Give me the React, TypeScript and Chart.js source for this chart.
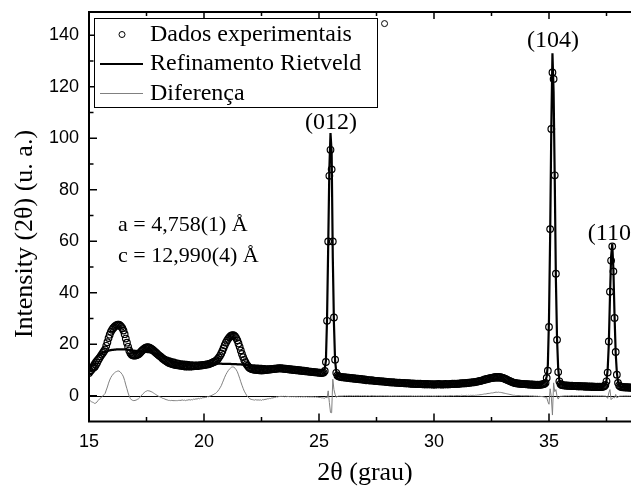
import React, { useEffect, useRef } from 'react';
import { Chart, registerables } from 'chart.js';

Chart.register(...registerables);

// 2θ measurement grid (degrees)
const THETA_START = 15;
const THETA_STEP = 0.05;

// Experimental intensities, one row per degree (15.00 ... 38.70)
const OBS = [
  8.8, 9.5, 10.0, 10.6, 11.0, 11.3, 12.0, 12.8, 13.8, 14.6, 15.3, 16.0, 16.6, 17.3, 18.0, 19.4, 20.8, 22.4, 23.7, 24.8,
  25.6, 26.2, 26.7, 27.1, 27.4, 27.6, 27.6, 27.3, 26.8, 26.2, 25.3, 23.9, 22.2, 20.6, 19.0, 17.6, 16.6, 16.0, 15.7, 15.6,
  15.6, 15.7, 15.9, 16.1, 16.5, 17.0, 17.5, 17.9, 18.3, 18.6, 18.8, 18.9, 18.8, 18.6, 18.3, 18.0, 17.6, 17.2, 16.8, 16.4,
  16.0, 15.6, 15.3, 14.9, 14.5, 14.2, 13.8, 13.5, 13.2, 12.9, 12.7, 12.5, 12.4, 12.2, 12.1, 12.0, 11.9, 11.8, 11.8, 11.7,
  11.6, 11.8, 11.5, 11.6, 11.3, 11.5, 11.4, 11.6, 11.3, 11.5, 11.4, 11.6, 11.5, 11.7, 11.5, 11.8, 11.6, 11.9, 11.7, 12.0,
  11.9, 12.1, 12.0, 12.3, 12.2, 12.5, 12.6, 12.8, 13.0, 13.2, 13.4, 13.8, 14.3, 14.9, 15.6, 16.4, 17.4, 18.5, 19.6, 20.6,
  21.4, 22.1, 22.7, 23.1, 23.4, 23.5, 23.4, 23.0, 22.4, 21.5, 20.3, 19.0, 17.6, 16.2, 15.0, 13.9, 13.0, 12.2, 11.6, 11.1,
  10.7, 10.5, 10.3, 10.2, 10.1, 10.2, 10.0, 10.1, 9.9, 10.0, 9.8, 10.0, 9.9, 10.1, 10.0, 10.2, 10.1, 10.3, 10.2, 10.4,
  10.3, 10.5, 10.4, 10.6, 10.5, 10.7, 10.6, 10.7, 10.5, 10.6, 10.4, 10.5, 10.3, 10.4, 10.2, 10.3, 10.1, 10.2, 10.0, 10.1,
  9.9, 10.0, 9.8, 9.9, 9.7, 9.8, 9.6, 9.7, 9.5, 9.6, 9.4, 9.5, 9.3, 9.4, 9.2, 9.3, 9.1, 9.2, 9.0, 9.1,
  8.9, 9.0, 8.8, 8.9, 9.0, 9.6, 13.1, 29.1, 59.9, 85.4, 95.5, 87.9, 59.9, 30.4, 14.0, 8.9, 7.9, 7.6, 7.4, 7.3,
  7.2, 7.1, 7.2, 7.0, 7.1, 6.9, 7.0, 6.8, 6.9, 6.7, 6.8, 6.6, 6.7, 6.5, 6.6, 6.4, 6.5, 6.3, 6.4, 6.2,
  6.3, 6.0, 6.2, 6.1, 5.9, 6.0, 6.1, 5.8, 5.9, 5.8, 5.7, 5.8, 5.6, 5.7, 5.5, 5.6, 5.6, 5.4, 5.5, 5.3,
  5.4, 5.2, 5.3, 5.1, 5.3, 5.1, 5.2, 5.0, 5.1, 5.0, 5.1, 4.9, 5.0, 4.9, 5.0, 4.8, 4.9, 4.8, 4.9, 4.7,
  4.8, 4.6, 4.8, 4.6, 4.7, 4.5, 4.7, 4.5, 4.7, 4.5, 4.6, 4.4, 4.6, 4.4, 4.6, 4.4, 4.5, 4.4, 4.5, 4.3,
  4.5, 4.3, 4.5, 4.4, 4.6, 4.4, 4.5, 4.3, 4.5, 4.4, 4.6, 4.4, 4.5, 4.4, 4.6, 4.5, 4.7, 4.5, 4.7, 4.6,
  4.7, 4.6, 4.8, 4.7, 4.9, 4.8, 4.9, 4.8, 5.0, 4.9, 5.1, 5.0, 5.2, 5.1, 5.3, 5.2, 5.4, 5.4, 5.6, 5.6,
  5.8, 5.8, 6.0, 6.1, 6.3, 6.3, 6.5, 6.6, 6.7, 6.8, 6.9, 7.0, 7.1, 7.2, 7.3, 7.2, 7.3, 7.2, 7.2, 7.0,
  6.9, 6.7, 6.5, 6.3, 6.1, 5.9, 5.7, 5.5, 5.3, 5.1, 5.0, 4.9, 4.8, 4.8, 4.7, 4.7, 4.6, 4.6, 4.5, 4.5,
  4.5, 4.4, 4.5, 4.3, 4.4, 4.3, 4.4, 4.2, 4.3, 4.2, 4.3, 4.2, 4.3, 4.3, 4.4, 4.5, 4.7, 5.0, 6.9, 9.7,
  26.7, 64.7, 103.6, 125.5, 123.0, 85.6, 47.4, 21.7, 9.2, 5.6, 4.6, 4.2, 4.1, 4.0, 4.0, 3.9, 4.0, 3.8, 3.9, 3.8,
  3.9, 3.7, 3.8, 3.7, 3.8, 3.6, 3.8, 3.6, 3.7, 3.6, 3.7, 3.5, 3.7, 3.5, 3.6, 3.5, 3.6, 3.4, 3.6, 3.4,
  3.5, 3.4, 3.5, 3.4, 3.5, 3.4, 3.5, 3.5, 3.7, 4.2, 5.6, 9.0, 21.1, 40.4, 52.5, 58.0, 48.3, 30.2, 17.0, 8.2,
  5.0, 4.0, 3.6, 3.4, 3.3, 3.4, 3.2, 3.3, 3.2, 3.3, 3.1, 3.2, 3.1, 3.2, 3.1,
];

// Rietveld calculated profile on the same grid
const CALC = [
  10.4, 11.4, 12.3, 13.1, 13.7, 14.3, 14.8, 15.2, 15.6, 15.9, 16.2, 16.5, 16.7, 16.9, 17.1, 17.2, 17.4, 17.5, 17.6, 17.7,
  17.8, 17.8, 17.9, 17.9, 18.0, 18.0, 18.0, 18.0, 18.0, 18.0, 18.0, 18.0, 18.0, 17.9, 17.9, 17.8, 17.7, 17.6, 17.5, 17.5,
  17.4, 17.4, 17.3, 17.3, 17.3, 17.2, 17.2, 17.1, 17.1, 17.0, 17.0, 16.9, 16.9, 16.8, 16.7, 16.6, 16.5, 16.4, 16.3, 16.2,
  16.1, 15.9, 15.8, 15.6, 15.5, 15.3, 15.1, 15.0, 14.8, 14.7, 14.5, 14.4, 14.2, 14.1, 14.0, 13.9, 13.8, 13.7, 13.6, 13.5,
  13.4, 13.4, 13.3, 13.3, 13.2, 13.2, 13.1, 13.1, 13.0, 13.0, 13.0, 12.9, 12.9, 12.9, 12.8, 12.8, 12.8, 12.8, 12.7, 12.7,
  12.7, 12.7, 12.7, 12.6, 12.6, 12.6, 12.6, 12.6, 12.6, 12.5, 12.5, 12.5, 12.5, 12.5, 12.5, 12.5, 12.4, 12.4, 12.4, 12.4,
  12.4, 12.4, 12.4, 12.4, 12.3, 12.3, 12.3, 12.3, 12.3, 12.2, 12.2, 12.2, 12.2, 12.1, 12.1, 12.1, 12.0, 12.0, 12.0, 11.9,
  11.9, 11.9, 11.8, 11.8, 11.8, 11.7, 11.7, 11.7, 11.6, 11.6, 11.6, 11.5, 11.5, 11.5, 11.4, 11.4, 11.3, 11.3, 11.3, 11.2,
  11.2, 11.1, 11.1, 11.0, 11.0, 11.0, 10.9, 10.9, 10.8, 10.8, 10.8, 10.7, 10.7, 10.6, 10.6, 10.6, 10.5, 10.5, 10.4, 10.4,
  10.4, 10.3, 10.3, 10.2, 10.2, 10.1, 10.1, 10.0, 10.0, 9.9, 9.9, 9.9, 9.8, 9.8, 9.7, 9.7, 9.7, 9.6, 9.6, 9.6,
  9.6, 9.6, 9.6, 9.7, 9.9, 10.6, 13.5, 30.0, 58.0, 88.0, 102.0, 94.5, 53.5, 28.0, 13.5, 9.5, 8.2, 7.7, 7.5, 7.4,
  7.3, 7.2, 7.1, 7.1, 7.0, 7.0, 6.9, 6.9, 6.8, 6.8, 6.7, 6.7, 6.6, 6.6, 6.5, 6.5, 6.4, 6.4, 6.3, 6.3,
  6.2, 6.2, 6.1, 6.1, 6.0, 6.0, 6.0, 5.9, 5.9, 5.8, 5.8, 5.8, 5.7, 5.7, 5.6, 5.6, 5.6, 5.5, 5.5, 5.4,
  5.4, 5.4, 5.3, 5.3, 5.3, 5.2, 5.2, 5.2, 5.1, 5.1, 5.1, 5.0, 5.0, 5.0, 5.0, 4.9, 4.9, 4.9, 4.9, 4.8,
  4.8, 4.8, 4.8, 4.8, 4.7, 4.7, 4.7, 4.7, 4.7, 4.6, 4.6, 4.6, 4.6, 4.6, 4.6, 4.5, 4.5, 4.5, 4.5, 4.5,
  4.5, 4.5, 4.5, 4.5, 4.5, 4.5, 4.5, 4.5, 4.5, 4.5, 4.5, 4.5, 4.5, 4.5, 4.5, 4.5, 4.6, 4.6, 4.6, 4.6,
  4.6, 4.6, 4.7, 4.7, 4.7, 4.7, 4.8, 4.8, 4.8, 4.9, 4.9, 4.9, 5.0, 5.0, 5.1, 5.1, 5.2, 5.2, 5.3, 5.3,
  5.4, 5.4, 5.5, 5.5, 5.6, 5.6, 5.7, 5.7, 5.8, 5.8, 5.8, 5.9, 5.9, 5.9, 5.9, 5.9, 5.9, 5.9, 5.9, 5.8,
  5.8, 5.7, 5.6, 5.5, 5.4, 5.3, 5.2, 5.1, 5.0, 4.9, 4.8, 4.8, 4.7, 4.7, 4.6, 4.6, 4.6, 4.5, 4.5, 4.5,
  4.5, 4.4, 4.4, 4.4, 4.4, 4.4, 4.4, 4.4, 4.4, 4.4, 4.4, 4.5, 4.5, 4.6, 4.7, 4.9, 5.2, 5.8, 7.5, 12.0,
  30.0, 62.0, 104.0, 133.0, 118.0, 84.0, 45.0, 22.0, 10.5, 6.0, 4.8, 4.4, 4.2, 4.1, 4.0, 4.0, 3.9, 3.9, 3.9, 3.8,
  3.8, 3.8, 3.7, 3.7, 3.7, 3.7, 3.7, 3.6, 3.6, 3.6, 3.6, 3.6, 3.6, 3.5, 3.5, 3.5, 3.5, 3.5, 3.5, 3.5,
  3.5, 3.5, 3.5, 3.5, 3.5, 3.5, 3.5, 3.6, 3.8, 4.3, 6.0, 10.0, 20.0, 38.0, 54.0, 59.0, 49.0, 31.0, 16.5, 9.0,
  5.5, 4.2, 3.7, 3.5, 3.4, 3.4, 3.3, 3.3, 3.3, 3.3, 3.2, 3.2, 3.2, 3.2, 3.2,
];

// Difference curve (observed - calculated)
const DIFF = [
  -1.6, -1.9, -2.3, -2.5, -2.7, -3.0, -2.8, -2.4, -1.8, -1.3, -0.9, -0.5, -0.1, 0.4, 0.9, 2.2, 3.4, 4.9, 6.1, 7.1,
  7.8, 8.4, 8.8, 9.2, 9.4, 9.6, 9.6, 9.3, 8.8, 8.2, 7.3, 5.9, 4.2, 2.7, 1.1, -0.2, -1.1, -1.6, -1.8, -1.9,
  -1.8, -1.7, -1.4, -1.2, -0.8, -0.2, 0.3, 0.8, 1.2, 1.6, 1.8, 2.0, 1.9, 1.8, 1.6, 1.4, 1.1, 0.8, 0.5, 0.2,
  -0.1, -0.3, -0.5, -0.7, -1.0, -1.1, -1.3, -1.5, -1.6, -1.8, -1.8, -1.9, -1.8, -1.9, -1.9, -1.9, -1.9, -1.9, -1.8, -1.8,
  -1.8, -1.6, -1.8, -1.7, -1.9, -1.7, -1.7, -1.5, -1.7, -1.5, -1.6, -1.3, -1.4, -1.2, -1.3, -1.0, -1.2, -0.9, -1.0, -0.7,
  -0.8, -0.6, -0.7, -0.3, -0.4, -0.1, 0.0, 0.2, 0.4, 0.7, 0.9, 1.3, 1.8, 2.4, 3.1, 3.9, 5.0, 6.1, 7.2, 8.2,
  9.0, 9.7, 10.3, 10.7, 11.1, 11.2, 11.1, 10.7, 10.1, 9.3, 8.1, 6.8, 5.4, 4.1, 2.9, 1.8, 1.0, 0.2, -0.4, -0.8,
  -1.2, -1.4, -1.5, -1.6, -1.7, -1.5, -1.7, -1.6, -1.7, -1.6, -1.8, -1.5, -1.6, -1.4, -1.4, -1.2, -1.2, -1.0, -1.1, -0.8,
  -0.9, -0.6, -0.7, -0.4, -0.5, -0.3, -0.3, -0.2, -0.3, -0.2, -0.4, -0.2, -0.4, -0.2, -0.4, -0.3, -0.4, -0.3, -0.4, -0.3,
  -0.5, -0.3, -0.5, -0.3, -0.5, -0.3, -0.5, -0.3, -0.5, -0.3, -0.5, -0.4, -0.5, -0.4, -0.5, -0.4, -0.6, -0.4, -0.6, -0.5,
  -0.7, -0.6, -0.8, -0.8, -0.9, -1.0, -0.4, -0.9, 1.9, -2.6, -6.5, -6.6, 6.4, 2.4, 0.5, -0.6, -0.3, -0.1, -0.1, -0.1,
  -0.1, -0.1, 0.1, -0.1, 0.1, -0.1, 0.1, -0.1, 0.1, -0.1, 0.1, -0.1, 0.1, -0.1, 0.1, -0.1, 0.1, -0.1, 0.1, -0.1,
  0.1, -0.2, 0.1, 0.0, -0.1, 0.0, 0.1, -0.1, 0.0, 0.0, -0.1, 0.0, -0.1, 0.0, -0.1, 0.0, 0.0, -0.1, 0.0, -0.1,
  0.0, -0.2, 0.0, -0.2, 0.0, -0.1, 0.0, -0.2, 0.0, -0.1, 0.0, -0.1, 0.0, -0.1, 0.0, -0.1, 0.0, -0.1, 0.0, -0.1,
  0.0, -0.2, 0.0, -0.2, 0.0, -0.2, 0.0, -0.2, 0.0, -0.1, 0.0, -0.2, 0.0, -0.2, 0.0, -0.1, 0.0, -0.1, 0.0, -0.2,
  0.0, -0.2, 0.0, -0.1, 0.1, -0.1, 0.0, -0.2, 0.0, -0.1, 0.1, -0.1, 0.0, -0.1, 0.1, 0.0, 0.1, -0.1, 0.1, 0.0,
  0.1, 0.0, 0.1, 0.0, 0.2, 0.1, 0.1, 0.0, 0.2, 0.0, 0.2, 0.1, 0.2, 0.1, 0.2, 0.1, 0.2, 0.2, 0.3, 0.3,
  0.4, 0.4, 0.5, 0.6, 0.7, 0.7, 0.8, 0.9, 0.9, 1.0, 1.1, 1.1, 1.2, 1.3, 1.4, 1.3, 1.4, 1.3, 1.3, 1.2,
  1.1, 1.0, 0.9, 0.8, 0.7, 0.6, 0.5, 0.4, 0.3, 0.2, 0.2, 0.1, 0.1, 0.1, 0.1, 0.1, 0.0, 0.1, 0.0, 0.0,
  0.0, 0.0, 0.1, -0.1, 0.0, -0.1, 0.0, -0.2, -0.1, -0.2, -0.1, -0.3, -0.2, -0.3, -0.3, -0.4, -0.5, -0.8, -0.6, -2.3,
  -3.3, 2.7, -0.4, -7.5, 5.0, 1.6, 2.4, -0.3, -1.3, -0.4, -0.2, -0.2, -0.1, -0.1, 0.0, -0.1, 0.1, -0.1, 0.0, 0.0,
  0.1, -0.1, 0.1, 0.0, 0.1, -0.1, 0.1, 0.0, 0.1, 0.0, 0.1, -0.1, 0.1, 0.0, 0.1, 0.0, 0.1, -0.1, 0.1, -0.1,
  0.0, -0.1, 0.0, -0.1, 0.0, -0.1, 0.0, -0.1, -0.1, -0.1, -0.4, -1.0, 1.1, 2.4, -1.5, -1.0, -0.7, -0.8, 0.5, -0.8,
  -0.5, -0.2, -0.1, -0.1, -0.1, 0.0, -0.1, 0.0, -0.1, 0.0, -0.1, 0.0, -0.1, 0.0, -0.1,
];

// isolated experimental point near the top of the frame
const STRAY_THETA = [27.85];
const STRAY_INTENSITY = [144.5];

const SERIES_NAMES = ['Dados experimentais', 'Refinamento Rietveld', 'Diferença'];

const X_TICKS = [15, 20, 25, 30, 35];
const X_MINOR = [17.5, 22.5, 27.5, 32.5, 37.5];
const Y_TICKS = [0, 20, 40, 60, 80, 100, 120, 140];
const Y_MINOR = [10, 30, 50, 70, 90, 110, 130];

const X_TITLE = '2θ (grau)';
const Y_TITLE = 'Intensity (2θ) (u. a.)';

const PEAK_TEXT = ['(012)', '(104)', '(110)'];
const PEAK_THETA = [25.52, 35.17, 37.8];
const PEAK_TEXT_LEVEL = [106, 138, 63];

const LATTICE_TEXT = ['a = 4,758(1) Å', 'c = 12,990(4) Å'];

const SERIF = "'Liberation Serif', 'Times New Roman', serif";
const SANS = "'Liberation Sans', Arial, sans-serif";

const onGrid = (values: number[]) =>
  values.map((v, i) => ({ x: Math.round((THETA_START + i * THETA_STEP) * 100) / 100, y: v }));

const overlayPlugin = {
  id: 'overlay',
  beforeDatasetsDraw(chart: any) {
    const { ctx, chartArea: a, scales } = chart;
    const y0 = Math.round(scales.y.getPixelForValue(0)) + 0.5;
    ctx.save();
    ctx.strokeStyle = '#000';
    ctx.lineWidth = 1;
    ctx.beginPath();
    ctx.moveTo(a.left, y0);
    ctx.lineTo(a.right, y0);
    ctx.stroke();
    ctx.restore();
  },
  afterDatasetsDraw(chart: any) {
    const { ctx, chartArea: a, scales } = chart;
    const sx = scales.x;
    const sy = scales.y;
    ctx.save();
    ctx.strokeStyle = '#000';
    ctx.lineWidth = 1.5;
    ctx.beginPath();
    X_TICKS.forEach((v) => {
      const p = sx.getPixelForValue(v);
      ctx.moveTo(p, a.bottom);
      ctx.lineTo(p, a.bottom - 8);
      ctx.moveTo(p, a.top);
      ctx.lineTo(p, a.top + 7);
    });
    X_MINOR.forEach((v) => {
      const p = sx.getPixelForValue(v);
      ctx.moveTo(p, a.bottom);
      ctx.lineTo(p, a.bottom - 4.5);
      ctx.moveTo(p, a.top);
      ctx.lineTo(p, a.top + 4);
    });
    Y_TICKS.forEach((v) => {
      const p = sy.getPixelForValue(v);
      ctx.moveTo(a.left, p);
      ctx.lineTo(a.left + 8, p);
    });
    Y_MINOR.forEach((v) => {
      const p = sy.getPixelForValue(v);
      ctx.moveTo(a.left, p);
      ctx.lineTo(a.left + 4.5, p);
    });
    ctx.stroke();
    ctx.lineWidth = 2;
    ctx.strokeRect(a.left, a.top, a.right - a.left, a.bottom - a.top);
    ctx.restore();
  },
  afterDraw(chart: any) {
    const { ctx, scales } = chart;
    const sx = scales.x;
    const sy = scales.y;
    ctx.save();
    // legend box
    ctx.fillStyle = '#fff';
    ctx.fillRect(94.5, 18.5, 283, 89);
    ctx.strokeStyle = '#000';
    ctx.lineWidth = 1;
    ctx.strokeRect(94.5, 18.5, 283, 89);
    const rows = [34.5, 64, 93.5];
    ctx.beginPath();
    ctx.arc(122, rows[0], 3, 0, Math.PI * 2);
    ctx.stroke();
    ctx.lineWidth = 2.2;
    ctx.beginPath();
    ctx.moveTo(100, rows[1]);
    ctx.lineTo(143, rows[1]);
    ctx.stroke();
    ctx.strokeStyle = '#808080';
    ctx.lineWidth = 1;
    ctx.beginPath();
    ctx.moveTo(100, rows[2]);
    ctx.lineTo(143, rows[2]);
    ctx.stroke();
    ctx.fillStyle = '#000';
    ctx.font = `24px ${SERIF}`;
    ctx.textAlign = 'left';
    ctx.textBaseline = 'middle';
    SERIES_NAMES.forEach((n, i) => ctx.fillText(n, 150, rows[i]));

    // lattice parameters
    ctx.font = `22px ${SERIF}`;
    ctx.fillText(LATTICE_TEXT[0], 118, 225);
    ctx.fillText(LATTICE_TEXT[1], 118, 256);

    // peak indices
    ctx.font = `24px ${SERIF}`;
    ctx.textAlign = 'center';
    PEAK_TEXT.forEach((t, i) => {
      ctx.fillText(t, sx.getPixelForValue(PEAK_THETA[i]), sy.getPixelForValue(PEAK_TEXT_LEVEL[i]));
    });

    // y axis title (rotated)
    ctx.font = `26px ${SERIF}`;
    ctx.translate(25, 234);
    ctx.rotate(-Math.PI / 2);
    ctx.textAlign = 'center';
    ctx.textBaseline = 'middle';
    ctx.fillText(Y_TITLE, 0, 0);
    ctx.restore();
  },
};

export default function App() {
  const canvasRef = useRef<HTMLCanvasElement | null>(null);

  useEffect(() => {
    if (!canvasRef.current) return;
    const chart = new Chart(canvasRef.current, {
      type: 'scatter',
      data: {
        datasets: [
          {
            label: SERIES_NAMES[1],
            data: onGrid(CALC),
            showLine: true,
            borderColor: '#000',
            borderWidth: 2.2,
            pointRadius: 0,
            order: 0,
          },
          {
            label: SERIES_NAMES[0],
            data: onGrid(OBS),
            showLine: false,
            pointRadius: 3.3,
            pointBorderWidth: 1.2,
            pointBorderColor: '#000',
            pointBackgroundColor: 'rgba(0,0,0,0)',
            order: 1,
          },
          {
            label: SERIES_NAMES[0] + ' ',
            data: STRAY_THETA.map((t, i) => ({ x: t, y: STRAY_INTENSITY[i] })),
            showLine: false,
            pointRadius: 3,
            pointBorderWidth: 1,
            pointBorderColor: '#000',
            pointBackgroundColor: 'rgba(0,0,0,0)',
            order: 1,
          },
          {
            label: SERIES_NAMES[2],
            data: onGrid(DIFF),
            showLine: true,
            borderColor: '#808080',
            borderWidth: 1,
            pointRadius: 0,
            order: 2,
          },
        ],
      },
      options: {
        animation: false,
        responsive: true,
        maintainAspectRatio: false,
        events: [],
        layout: { padding: { top: 12, right: 9, left: 0, bottom: 0 } },
        plugins: {
          legend: { display: false },
          tooltip: { enabled: false },
        },
        scales: {
          x: {
            type: 'linear',
            min: 15,
            max: 39,
            grid: { display: false, drawTicks: false },
            border: { display: false },
            ticks: {
              font: { family: SANS, size: 18 },
              color: '#000',
              padding: 10,
              maxRotation: 0,
            },
            afterBuildTicks: (axis: any) => {
              axis.ticks = X_TICKS.map((v) => ({ value: v }));
            },
            afterFit: (axis: any) => {
              axis.height = 64.5;
              axis.paddingLeft = 0;
              axis.paddingRight = 0;
            },
            title: {
              display: true,
              text: X_TITLE,
              color: '#000',
              font: { family: SERIF, size: 26, lineHeight: 1 },
              padding: { top: 0, bottom: 0 },
            },
          },
          y: {
            type: 'linear',
            min: -10,
            max: 149,
            grid: { display: false, drawTicks: false },
            border: { display: false },
            ticks: {
              font: { family: SANS, size: 18 },
              color: '#000',
              padding: 10,
            },
            afterBuildTicks: (axis: any) => {
              axis.ticks = Y_TICKS.map((v) => ({ value: v }));
            },
            afterFit: (axis: any) => {
              axis.width = 89;
              axis.paddingTop = 0;
              axis.paddingBottom = 0;
            },
            title: { display: false },
          },
        },
      },
      plugins: [overlayPlugin],
    });
    return () => chart.destroy();
  }, []);

  return (
    <div
      style={{
        position: 'fixed',
        left: 0,
        top: 0,
        width: 631,
        height: 486,
        overflow: 'hidden',
        background: '#fff',
      }}
    >
      <div style={{ position: 'relative', width: 650, height: 486 }}>
        <canvas ref={canvasRef} />
      </div>
    </div>
  );
}
